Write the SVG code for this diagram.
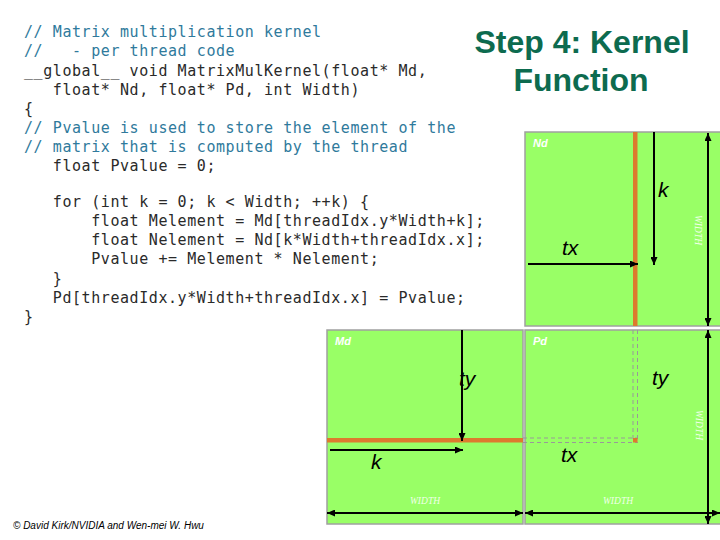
<svg xmlns="http://www.w3.org/2000/svg" width="720" height="540" viewBox="0 0 720 540">
<style>
.code{font-family:"DejaVu Sans Mono","Liberation Mono",monospace;font-size:15px;letter-spacing:0.57px;fill:#2a2a2a;white-space:pre;}
.cm{fill:#2f7a9c;}
.title{font-family:"Liberation Sans",Arial,sans-serif;font-weight:bold;font-size:32px;fill:#0d6b4f;text-anchor:middle;}
.box{fill:#99ff66;stroke:#a0a0a0;stroke-width:1.5;}
.name{font-family:"Liberation Sans",Arial,sans-serif;font-style:italic;font-weight:bold;font-size:11px;fill:#ffffff;}
.var{font-family:"Liberation Sans",Arial,sans-serif;font-style:italic;font-size:21px;fill:#000;}
.wid{font-family:"Liberation Serif","Times New Roman",serif;font-style:italic;font-size:9.5px;fill:#ffffff;opacity:0.85;text-anchor:middle;}
.arr{stroke:#000;stroke-width:2;fill:none;}
.a1{marker-end:url(#ah);}
.a2{marker-start:url(#ah);marker-end:url(#ah);}
.orange{fill:#dd7a2e;}
.dash{stroke:#999;stroke-width:1;stroke-dasharray:4 3;fill:none;}
.copy{font-family:"Liberation Sans",Arial,sans-serif;font-style:italic;font-size:10px;fill:#000;}
</style>
<defs>
<marker id="ah" markerUnits="userSpaceOnUse" markerWidth="8" markerHeight="7" refX="8" refY="3.5" orient="auto-start-reverse">
<path d="M0,0 L8,3.5 L0,7 z" fill="#000"/>
</marker>
</defs>
<rect width="720" height="540" fill="#ffffff"/>

<g id="title">
<text class="title" x="582" y="53">Step 4: Kernel</text>
<text class="title" x="581" y="91">Function</text>
</g>

<g id="code">
<text class="code cm" x="24" y="37" xml:space="preserve">// Matrix multiplication kernel</text>
<text class="code cm" x="24" y="56" xml:space="preserve">//   - per thread code</text>
<text class="code" x="24" y="75.5" xml:space="preserve">__global__ void MatrixMulKernel(float* Md,</text>
<text class="code" x="24" y="94.5" xml:space="preserve">   float* Nd, float* Pd, int Width)</text>
<text class="code" x="24" y="113.5" xml:space="preserve">{</text>
<text class="code cm" x="24" y="133" xml:space="preserve">// Pvalue is used to store the element of the</text>
<text class="code cm" x="24" y="152" xml:space="preserve">// matrix that is computed by the thread</text>
<text class="code" x="24" y="171" xml:space="preserve">   float Pvalue = 0;</text>
<text class="code" x="24" y="206.5" xml:space="preserve">   for (int k = 0; k &lt; Width; ++k) {</text>
<text class="code" x="24" y="226" xml:space="preserve">       float Melement = Md[threadIdx.y*Width+k];</text>
<text class="code" x="24" y="245" xml:space="preserve">       float Nelement = Nd[k*Width+threadIdx.x];</text>
<text class="code" x="24" y="264" xml:space="preserve">       Pvalue += Melement * Nelement;</text>
<text class="code" x="24" y="283.5" xml:space="preserve">   }</text>
<text class="code" x="24" y="302.5" xml:space="preserve">   Pd[threadIdx.y*Width+threadIdx.x] = Pvalue;</text>
<text class="code" x="24" y="322" xml:space="preserve">}</text>
</g>

<g id="Nd">
<rect class="box" x="525" y="132" width="200" height="194"/>
<rect class="orange" x="633" y="132" width="4.5" height="194"/>
<text class="name" x="533" y="147">Nd</text>
<text class="var" x="658" y="197">k</text>
<text class="var" x="562" y="255">tx</text>
<text class="wid" transform="translate(695,230) rotate(90)">WIDTH</text>
</g>

<g id="Md">
<rect class="box" x="327" y="330" width="196" height="194"/>
<rect class="orange" x="327" y="438" width="196" height="4.5"/>
<text class="name" x="335" y="345">Md</text>
<text class="var" x="459" y="386">ty</text>
<text class="var" x="371" y="469">k</text>
<text class="wid" x="425" y="504">WIDTH</text>
</g>

<g id="Pd">
<rect class="box" x="525" y="330" width="200" height="194"/>
<path class="dash" d="M523,438 H638 M523,442.5 H638 M633,330 V442 M637.5,330 V442"/>
<rect class="orange" x="633" y="438" width="4.5" height="4.5"/>
<text class="name" x="533" y="345">Pd</text>
<text class="var" x="652" y="385">ty</text>
<text class="var" x="561" y="462">tx</text>
<text class="wid" x="618" y="504">WIDTH</text>
<text class="wid" transform="translate(696,425) rotate(90)">WIDTH</text>
</g>

<g id="connectors">
<line class="arr a1" x1="654" y1="132" x2="654" y2="265"/>
<line class="arr a1" x1="528" y1="264" x2="638" y2="264"/>
<line class="arr a2" x1="708" y1="133" x2="708" y2="326"/>
<line class="arr a1" x1="462" y1="330" x2="462" y2="441"/>
<line class="arr a1" x1="330" y1="450" x2="463" y2="450"/>
<line class="arr a2" x1="327" y1="513" x2="523" y2="513"/>
<line class="arr a2" x1="525" y1="513" x2="720" y2="513"/>
<line class="arr a2" x1="708" y1="330" x2="708" y2="524"/>
</g>

<text class="copy" x="13" y="529">© David Kirk/NVIDIA and Wen-mei W. Hwu</text>
</svg>
